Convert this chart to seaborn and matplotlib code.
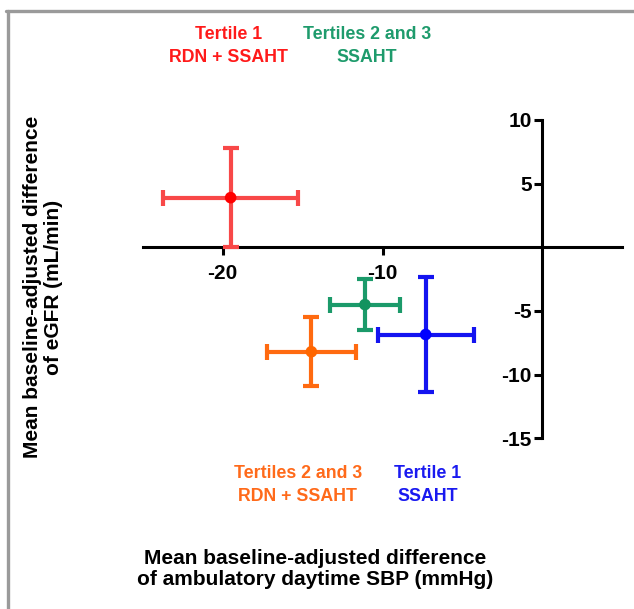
import matplotlib
matplotlib.use('Agg')
import matplotlib.pyplot as plt
from matplotlib.lines import Line2D
import seaborn as sns
import pandas as pd

# group labels and values
groups = ['Tertile 1\nRDN + SSAHT', 'Tertiles 2 and 3\nSSAHT',
          'Tertiles 2 and 3\nRDN + SSAHT', 'Tertile 1\nSSAHT']
sbp = [-19.5, -11.1, -14.45, -7.3]
egfr = [3.9, -4.5, -8.2, -6.85]
sbp_err = [4.2, 2.2, 2.8, 3.0]
egfr_err = [3.9, 2.0, 2.7, 4.5]
dot_colors = ['#FF0000', '#13935F', '#FF6600', '#0000FF']
bar_colors = ['#F84848', '#1B9A6A', '#FF6A10', '#1414F0']
text_colors = ['#FF1A1A', '#1E9B6C', '#FF6A1A', '#1A1AF0']
yticks = [10, 5, -5, -10, -15]
xticks = [-20, -10]

df = pd.DataFrame({'group': groups, 'sbp': sbp, 'egfr': egfr})

sns.set_style('white')
plt.rcParams['font.family'] = ['Liberation Sans', 'DejaVu Sans']
plt.rcParams['axes.unicode_minus'] = False
plt.rcParams['text.color'] = 'black'

fig = plt.figure(figsize=(6.34, 6.09), dpi=100)
ax = fig.add_axes([0.2251, 0.2803, 0.7565, 0.5227])

for i in range(len(groups)):
    ax.errorbar(sbp[i], egfr[i], xerr=sbp_err[i], yerr=egfr_err[i], fmt='none',
                ecolor=bar_colors[i], elinewidth=3, capsize=5.5, capthick=3,
                clip_on=False, zorder=3)
sns.scatterplot(data=df, x='sbp', y='egfr', hue='group', palette=dot_colors,
                s=70, edgecolor='none', legend=False, ax=ax, zorder=4, clip_on=False)

ax.set_xlim(-25, 5)
ax.set_ylim(-15, 10)
ax.spines['left'].set_position(('data', 0))
ax.spines['bottom'].set_position(('data', 0))
ax.spines['top'].set_visible(False)
ax.spines['right'].set_visible(False)
for sp in ['left', 'bottom']:
    ax.spines[sp].set_linewidth(2.2)
    ax.spines[sp].set_color('black')
ax.set_xticks(xticks)
ax.set_yticks(yticks)
ax.set_xticklabels([str(t) for t in xticks])
ax.set_yticklabels([str(t) for t in yticks])
ax.tick_params(axis='x', direction='out', length=6, width=2.2, pad=6,
               labelsize=15, bottom=True, colors='black')
ax.tick_params(axis='y', direction='out', length=6, width=2.2, pad=1.5,
               labelsize=15, left=True, colors='black')
for lab in ax.get_xticklabels() + ax.get_yticklabels():
    lab.set_fontweight('bold')
ax.set_xlabel('')
ax.set_ylabel('')
ax.patch.set_alpha(0)

# group labels
label_pos = [(229, 46), (367, 46), (298, 485), (428, 485)]
for (px, py), txt, c in zip(label_pos, groups, text_colors):
    fig.text(px / 634, 1 - py / 609, txt, color=c, fontsize=12.8, fontweight='bold',
             ha='center', va='center', linespacing=1.4)

fig.text(315 / 634, 1 - 569 / 609,
         'Mean baseline-adjusted difference\nof ambulatory daytime SBP (mmHg)',
         ha='center', va='center', fontsize=15, fontweight='bold', linespacing=1.1,
         color='black')
fig.text(43 / 634, 1 - 287 / 609,
         'Mean baseline-adjusted difference\nof eGFR (mL/min)',
         ha='center', va='center', fontsize=15, fontweight='bold', rotation=90,
         linespacing=1.15, color='black')

# grey frame (left and top edges)
fig.add_artist(Line2D([7.5 / 634, 7.5 / 634], [0, 1 - 10.5 / 609],
                      transform=fig.transFigure, color='#9a9a9a', lw=2.4))
fig.add_artist(Line2D([6.3 / 634, 1], [1 - 10.5 / 609, 1 - 10.5 / 609],
                      transform=fig.transFigure, color='#9a9a9a', lw=2.4))

fig.savefig('out.png', dpi=100)
